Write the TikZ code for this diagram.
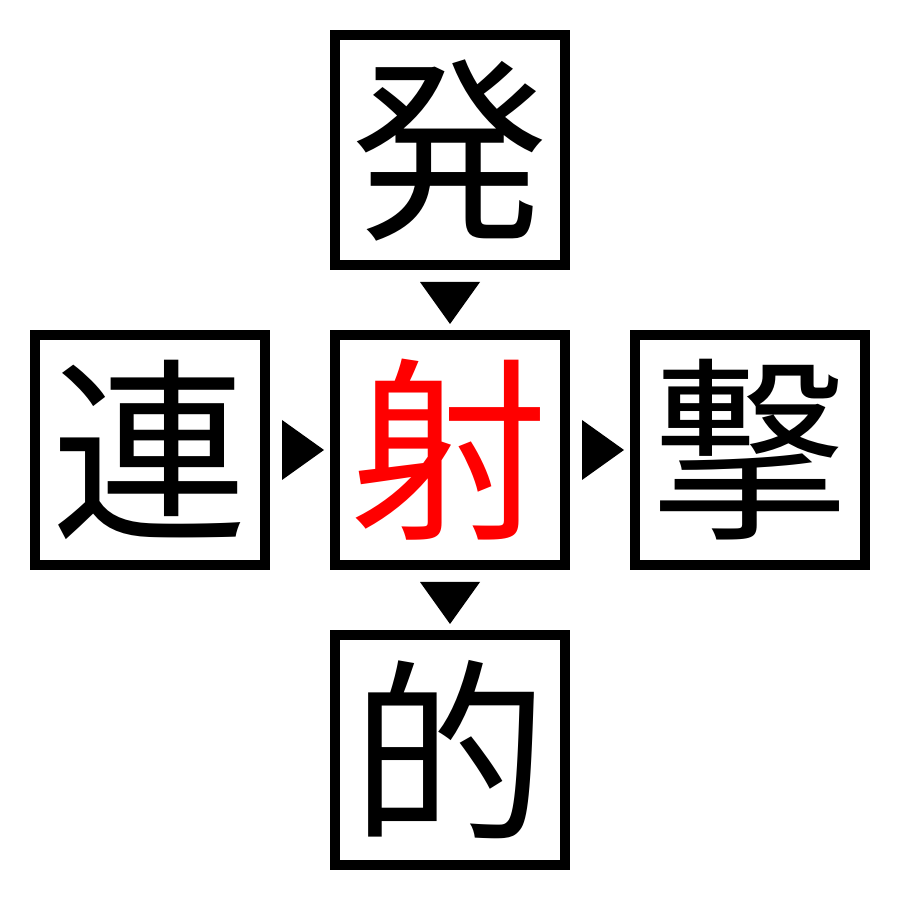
\documentclass[tikz,border=0pt]{standalone}
\usepackage{fontspec}
\newfontfamily\cjk{Noto Sans CJK JP}
\usetikzlibrary{calc}

\tikzset{
  kanji/.style={draw,line width=1mm,minimum size=23mm,inner sep=0pt,
    font=\cjk\fontsize{56}{56}\selectfont},
}

\begin{document}
\begin{tikzpicture}
    \useasboundingbox (0,0) rectangle (9,9);
    \coordinate (C) at (4.5,4.5);
    \coordinate (T) at (4.5,7.5);
    \coordinate (B) at (4.5,1.5);
    \coordinate (L) at (1.5,4.5);
    \coordinate (R) at (7.5,4.5);

    \node [kanji] (hatsu) at (T) {発};
    \node [kanji] (ren) at (L) {連};
    \node [kanji,text=red] (sha) at (C) {射};
    \node [kanji] (geki) at (R) {撃};
    \node [kanji] (mato) at (B) {的};

    % down markers
    \coordinate (m1) at ($(hatsu.south)!0.5!(sha.north)$);
    \coordinate (m2) at ($(sha.south)!0.5!(mato.north)$);
    \fill ([shift={(-3mm,1.8mm)}]m1) -- ([shift={(3mm,1.8mm)}]m1) -- ([shift={(0,-2.4mm)}]m1) -- cycle;
    \fill ([shift={(-3mm,1.8mm)}]m2) -- ([shift={(3mm,1.8mm)}]m2) -- ([shift={(0,-2.4mm)}]m2) -- cycle;

    % right markers
    \coordinate (m3) at ($(ren.east)!0.5!(sha.west)$);
    \coordinate (m4) at ($(sha.east)!0.5!(geki.west)$);
    \fill ([shift={(-1.8mm,3mm)}]m3) -- ([shift={(-1.8mm,-3mm)}]m3) -- ([shift={(2.4mm,0)}]m3) -- cycle;
    \fill ([shift={(-1.8mm,3mm)}]m4) -- ([shift={(-1.8mm,-3mm)}]m4) -- ([shift={(2.4mm,0)}]m4) -- cycle;
\end{tikzpicture}
\end{document}
